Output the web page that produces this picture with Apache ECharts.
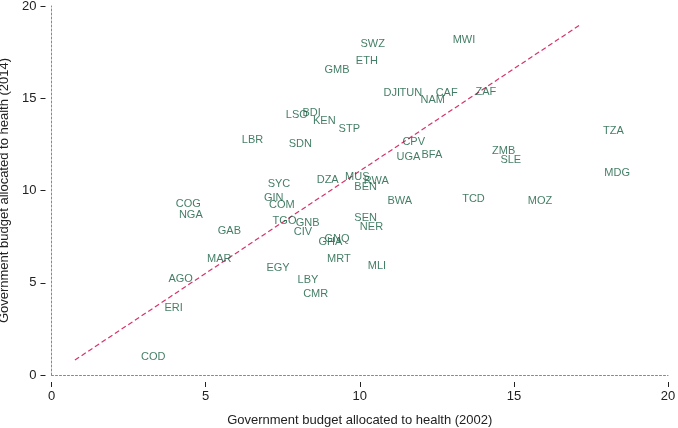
<!DOCTYPE html>
<html>
<head>
<meta charset="utf-8">
<script src="https://cdn.jsdelivr.net/npm/echarts@6/dist/echarts.min.js"></script>
<style>html,body{margin:0;padding:0;background:#fff}#c{width:678px;height:428px}</style>
</head>
<body>
<div id="c"></div>
<script>
const countries = ["SWZ","MWI","ETH","GMB","DJI","TUN","NAM","CAF","ZAF","LSO","BDI","KEN","STP","LBR","SDN","CPV","UGA","BFA","ZMB","SLE","TZA","MDG","MOZ","DZA","MUS","RWA","BEN","BWA","TCD","SYC","GIN","COM","COG","NGA","GAB","TGO","GNB","CIV","GNQ","GHA","MRT","MLI","SEN","NER","MAR","EGY","LBY","CMR","AGO","ERI","COD"];
const health2002 = [10.42,13.38,10.23,9.26,11.04,11.66,12.37,12.82,14.09,7.96,8.44,8.85,9.66,6.52,8.07,11.75,11.58,12.34,14.67,14.90,18.23,18.35,15.85,8.96,9.92,10.54,10.19,11.30,13.69,7.38,7.21,7.47,4.44,4.52,5.77,7.56,8.31,8.16,9.26,9.05,9.32,10.56,10.19,10.38,5.44,7.35,8.32,8.57,4.19,3.96,3.30];
const health2014 = [17.94,18.16,17.04,16.53,15.28,15.28,14.90,15.28,15.34,14.09,14.22,13.78,13.33,12.74,12.50,12.63,11.80,11.94,12.14,11.65,13.24,10.93,9.45,10.57,10.71,10.53,10.20,9.43,9.54,10.35,9.61,9.20,9.28,8.69,7.82,8.33,8.25,7.77,7.35,7.21,6.30,5.91,8.53,8.02,6.30,5.82,5.13,4.37,5.20,3.65,0.96];
const fitX = [0.76, 17.14];
const fitY = [0.81, 18.97];
const ticks = [0, 5, 10, 15, 20];

const pts = countries.map((c, i) => ({ name: c, value: [health2002[i], health2014[i]] }));
const fit = fitX.map((x, i) => [x, fitY[i]]);

const chart = echarts.init(document.getElementById('c'), null, { renderer: 'canvas' });
const font = 'Liberation Sans, Arial, Helvetica, sans-serif';
const tickAxisCommon = {
  type: 'value', min: ticks[0], max: ticks[ticks.length - 1], interval: 5,
  axisLine: { show: true, onZero: false, lineStyle: { color: 'rgba(0,0,0,0)', width: 1 } },
  axisTick: { show: true, inside: false, length: 5, lineStyle: { color: '#222', width: 1 } },
  axisLabel: { color: '#222', fontSize: 13, fontFamily: font },
  splitLine: { show: false },
  nameLocation: 'middle',
  nameTextStyle: { color: '#222', fontSize: 13, fontFamily: font }
};
const lineAxisCommon = {
  type: 'value', min: 0, max: 20, interval: 5,
  axisLine: { show: true, onZero: false, lineStyle: { color: '#888', type: [2, 2], width: 1 } },
  axisTick: { show: false }, axisLabel: { show: false }, splitLine: { show: false }
};
chart.setOption({
  animation: false,
  backgroundColor: '#fff',
  grid: { left: 51.5, right: 10, top: 6, bottom: 53, containLabel: false, outerBoundsMode: 'none' },
  xAxis: [
    Object.assign({}, tickAxisCommon, { position: 'bottom', offset: 7, name: 'Government budget allocated to health (2002)', nameGap: 32, axisLabel: Object.assign({}, tickAxisCommon.axisLabel, { margin: 8 }) }),
    Object.assign({}, lineAxisCommon, { position: 'bottom' })
  ],
  yAxis: [
    Object.assign({}, tickAxisCommon, { position: 'left', offset: 6, name: 'Government budget allocated to health (2014)', nameGap: 32, axisLabel: Object.assign({}, tickAxisCommon.axisLabel, { margin: 9 }) }),
    Object.assign({}, lineAxisCommon, { position: 'left' })
  ],
  series: [
    {
      type: 'line', data: fit, xAxisIndex: 0, yAxisIndex: 0, symbol: 'none',
      lineStyle: { color: '#d6336b', width: 1.2, type: [5, 3] }, silent: true, z: 1
    },
    {
      type: 'scatter', data: pts, xAxisIndex: 0, yAxisIndex: 0, symbolSize: 0,
      label: { show: true, position: 'inside', formatter: p => p.name, color: '#145c3e', fontSize: 11, fontFamily: font },
      z: 2
    }
  ]
});
</script>
</body>
</html>
